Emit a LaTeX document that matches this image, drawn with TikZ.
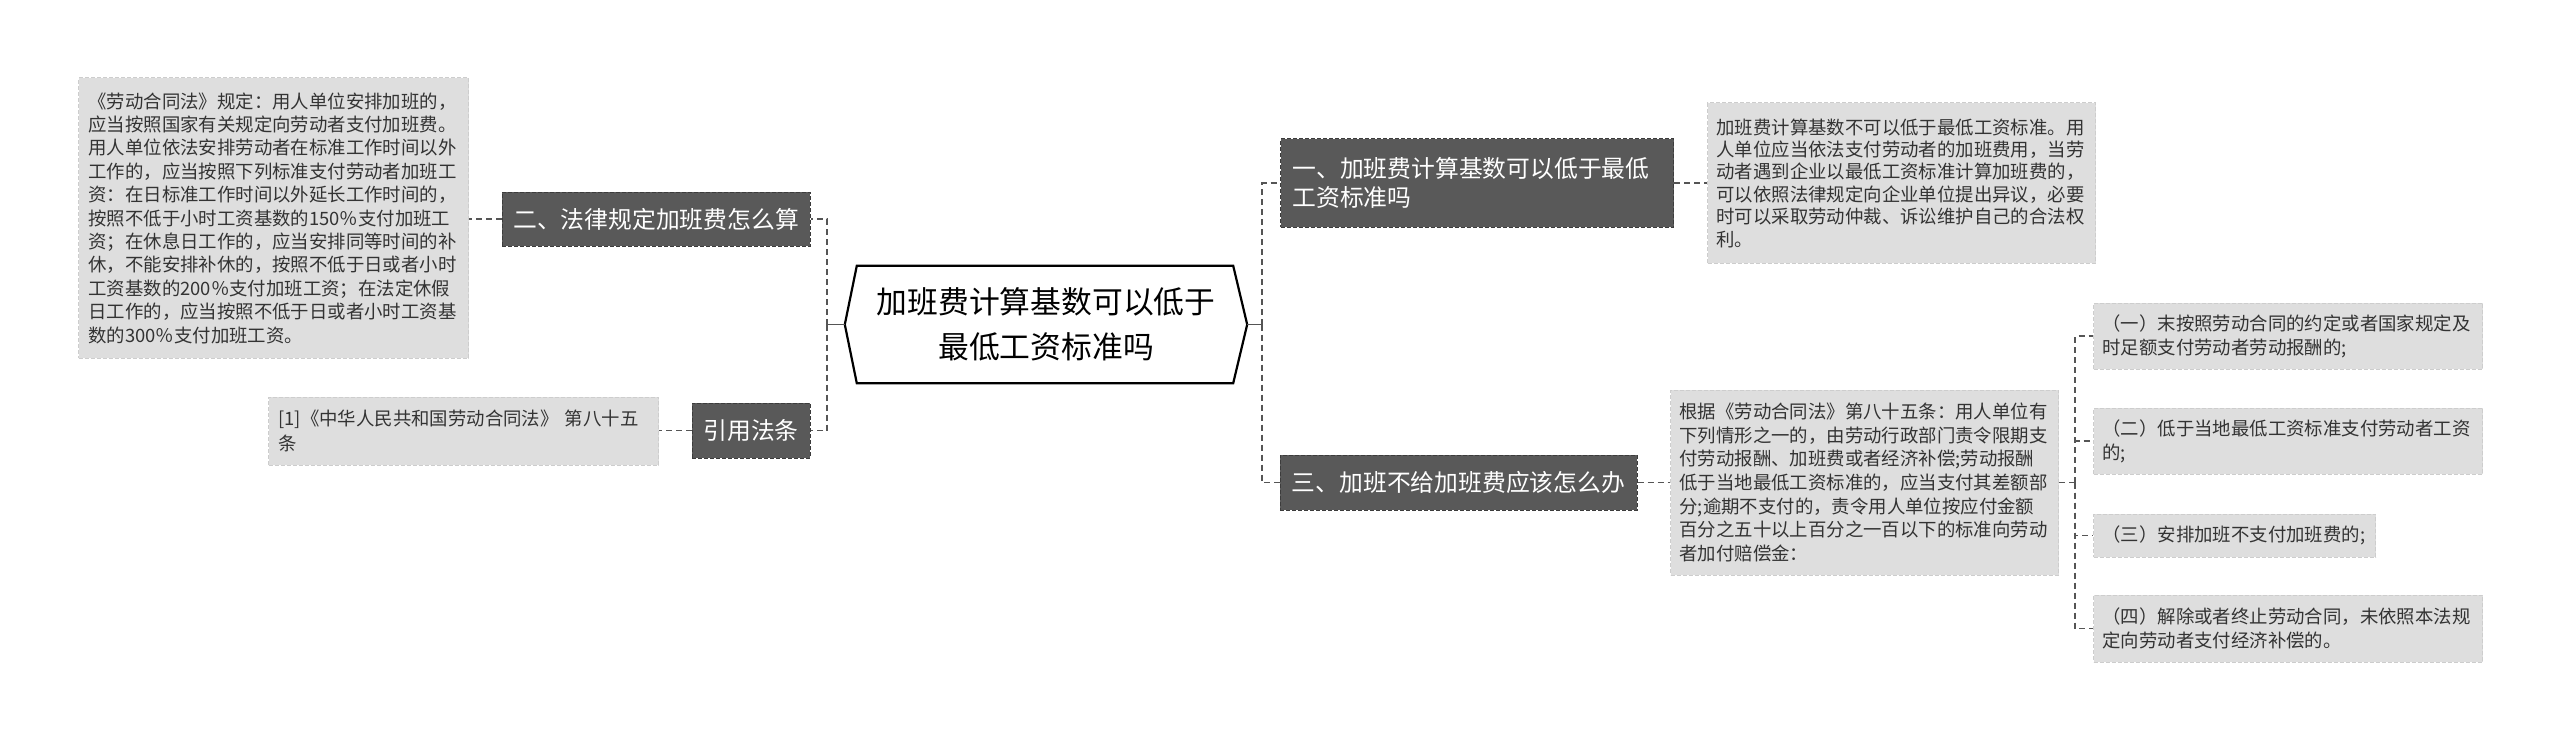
\documentclass[tikz,border=0pt]{standalone}
\usepackage{fontspec}
\setmainfont{Noto Sans CJK SC}
\begin{document}
\begin{tikzpicture}[x=1pt,y=-1pt,
  conn/.style={draw=connc,line width=1.8pt,dash pattern=on 6pt off 4pt},
  stem/.style={draw=connc,line width=1.8pt},
  dark/.style={fill=darkf,draw=darkb,line width=1pt,dash pattern=on 4pt off 2pt,text=white,
     inner sep=0pt,font=\fontsize{23.8}{29.5}\selectfont},
  light/.style={fill=lightf,draw=lightb,line width=1pt,dash pattern=on 4pt off 2pt,text=txtc,
     inner sep=0pt,align=left,font=\fontsize{18.4}{23.4}\selectfont},
]
\definecolor{connc}{HTML}{555555}
\definecolor{darkf}{HTML}{595959}
\definecolor{darkb}{HTML}{3C3C3C}
\definecolor{lightf}{HTML}{DEDEDE}
\definecolor{lightb}{HTML}{CDCDCD}
\definecolor{txtc}{HTML}{333333}
\useasboundingbox[fill=white] (0,0) rectangle (2560,741);

% root hexagon
\node[minimum width=402pt,minimum height=117pt,inner sep=0pt,align=center,
  font=\fontsize{30.8}{45}\selectfont,text=black] (root) at (1046,324.5)
  {加班费计算基数可以低于\\最低工资标准吗};
\draw[line width=2.2pt,line join=miter] (root.west) -- ([xshift=12pt]root.north west) -- ([xshift=-14pt]root.north east)
  -- (root.east) -- ([xshift=-14pt]root.south east) -- ([xshift=12pt]root.south west) -- cycle;

% left branch
\node[dark,minimum width=308pt,minimum height=54pt] (n2) at (656,219) {二、法律规定加班费怎么算};
\node[dark,minimum width=118pt,minimum height=55pt] (n4) at (751,430.5) {引用法条};
\node[light,anchor=west,text width=370pt,minimum height=280pt,inner xsep=10pt] (bigbox) at (78,218)
 {《劳动合同法》规定：用人单位安排加班的，\\
  应当按照国家有关规定向劳动者支付加班费。\\
  用人单位依法安排劳动者在标准工作时间以外\\
  工作的，应当按照下列标准支付劳动者加班工\\
  资：在日标准工作时间以外延长工作时间的，\\
  按照不低于小时工资基数的150％支付加班工\\
  资；在休息日工作的，应当安排同等时间的补\\
  休，不能安排补休的，按照不低于日或者小时\\
  工资基数的200％支付加班工资；在法定休假\\
  日工作的，应当按照不低于日或者小时工资基\\
  数的300％支付加班工资。};
\node[light,anchor=west,text width=370pt,minimum height=68pt,inner xsep=10pt,
  font=\fontsize{18.4}{25}\selectfont] (cite) at (268,431)
 {[1]《中华人民共和国劳动合同法》 第八十五\\条};

% right branch
\node[dark,anchor=west,align=left,text width=369pt,minimum height=88pt,inner xsep=12pt] (n1) at (1280,183)
 {一、加班费计算基数可以低于最低\\工资标准吗};
\node[dark,minimum width=357pt,minimum height=55pt] (n3) at (1458.5,482.5) {三、加班不给加班费应该怎么办};
\node[light,anchor=west,text width=370pt,minimum height=160pt,inner xsep=9pt,
  font=\fontsize{18.4}{22.4}\selectfont] (rbox1) at (1707,183)
 {加班费计算基数不可以低于最低工资标准。用\\
  人单位应当依法支付劳动者的加班费用，当劳\\
  动者遇到企业以最低工资标准计算加班费的，\\
  可以依照法律规定向企业单位提出异议，必要\\
  时可以采取劳动仲裁、诉讼维护自己的合法权\\
  利。};
\node[light,anchor=west,text width=370pt,minimum height=185pt,inner xsep=9pt,
  font=\fontsize{18.4}{23.7}\selectfont] (rbox3) at (1670,482.5)
 {根据《劳动合同法》第八十五条：用人单位有\\
  下列情形之一的，由劳动行政部门责令限期支\\
  付劳动报酬、加班费或者经济补偿;劳动报酬\\
  低于当地最低工资标准的，应当支付其差额部\\
  分;逾期不支付的，责令用人单位按应付金额\\
  百分之五十以上百分之一百以下的标准向劳动\\
  者加付赔偿金：};
\node[light,anchor=west,text width=371pt,minimum height=66pt,inner xsep=9pt,
  font=\fontsize{18.4}{24}\selectfont] (c1) at (2093,336)
 {（一）末按照劳动合同的约定或者国家规定及\\时足额支付劳动者劳动报酬的;};
\node[light,anchor=west,text width=371pt,minimum height=66pt,inner xsep=9pt,
  font=\fontsize{18.4}{24}\selectfont] (c2) at (2093,441)
 {（二）低于当地最低工资标准支付劳动者工资\\的;};
\node[light,anchor=west,text width=264pt,minimum height=43pt,inner xsep=9pt] (c3) at (2093,535.5)
 {（三）安排加班不支付加班费的;};
\node[light,anchor=west,text width=371pt,minimum height=67pt,inner xsep=9pt,
  font=\fontsize{18.4}{24}\selectfont] (c4) at (2093,628.5)
 {（四）解除或者终止劳动合同，未依照本法规\\定向劳动者支付经济补偿的。};

% junctions
\coordinate (lj) at (827,324.5);
\coordinate (rj) at (1262,324.5);
\coordinate (cj) at (2075,482.5);

% connectors
\draw[stem] (root.west) -- (lj);
\draw[stem] (root.east) -- (rj);
\draw[conn] (lj) |- (n2.east);
\draw[conn] (lj) |- (n4.east);
\draw[conn] (n2.west) -- (bigbox.east |- n2.west);
\draw[conn] (n4.west) -- (cite.east |- n4.west);
\draw[conn] (rj) |- (n1.west);
\draw[conn] (rj) |- (n3.west);
\draw[conn] (n1.east) -- (rbox1.west);
\draw[conn] (n3.east) -- (rbox3.west);
\draw[conn] (rbox3.east) -- (cj);
\draw[conn] (cj) |- (c1.west);
\draw[conn] (cj) |- (c2.west);
\draw[conn] (cj) |- (c3.west);
\draw[conn] (cj) |- (c4.west);
\end{tikzpicture}
\end{document}
